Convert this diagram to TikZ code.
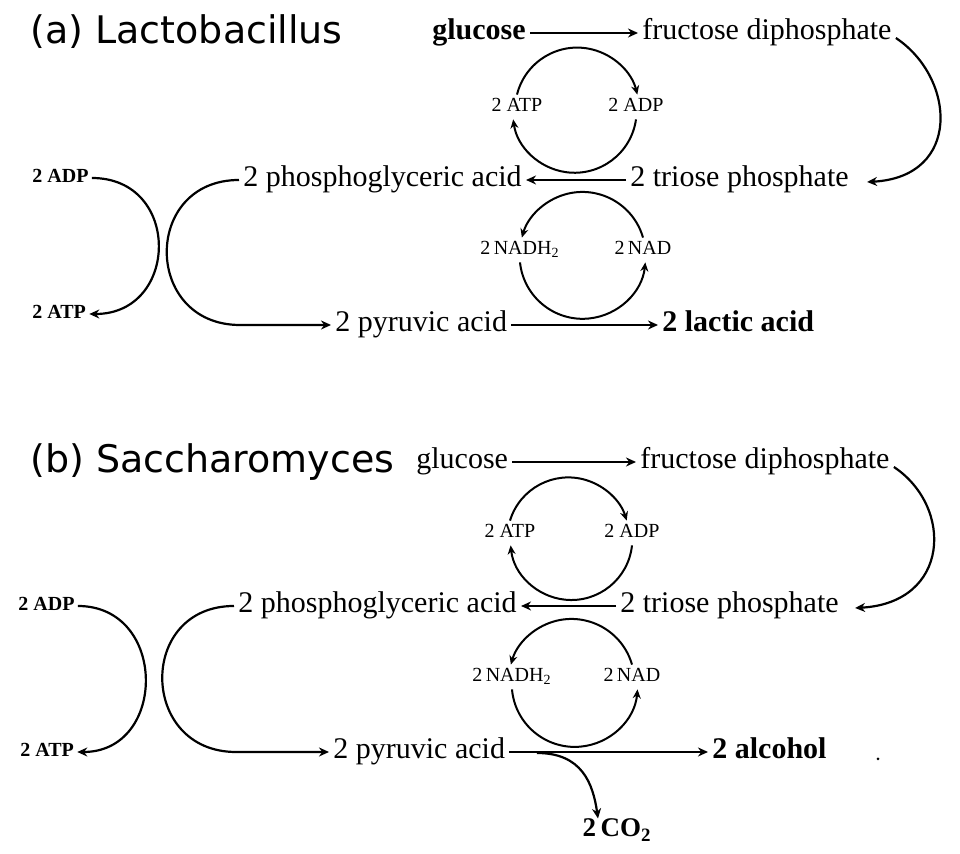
\documentclass[tikz,border=0pt]{standalone}
\usepackage{fontspec}
\setmainfont{Liberation Serif}
\newfontfamily\titlefont{DejaVu Sans}
\usetikzlibrary{arrows.meta,calc}
\begin{document}
\begin{tikzpicture}[x=0.5pt,y=-0.5pt,
  every node/.style={inner sep=2pt},
  txt/.style={font=\fontsize{15}{18}\selectfont, text height=10.5pt, text depth=3.5pt},
  btxt/.style={font=\fontsize{15}{18}\selectfont\bfseries, text height=10.5pt, text depth=3.5pt},
  sml/.style={font=\fontsize{10}{12}\selectfont, text height=7pt, text depth=2pt, inner sep=1.5pt},
  bsml/.style={font=\fontsize{10}{12}\selectfont\bfseries, text height=7pt, text depth=2pt, inner sep=1.5pt},
  ttl/.style={font=\titlefont\fontsize{19}{23}\selectfont},
  arr/.style={line width=1.1pt, -{Stealth[length=5pt,width=4.5pt]}},
  cyc/.style={line width=1pt, -{Stealth[length=4.5pt,width=4pt]}}
]
\useasboundingbox (0,0) rectangle (960,854);
\fill[white] (0,0) rectangle (960,854);

% ---------------- (a) Lactobacillus ----------------
\node[ttl, anchor=west] (ta) at (26,32) {(a) Lactobacillus};
\node[btxt, anchor=west] (gluA) at (428,33) {glucose};
\node[txt, anchor=west] (fdpA) at (638,33) {fructose diphosphate};
\node[txt, anchor=west] (tpA) at (626,180) {2 triose phosphate};
\node[txt, anchor=west] (pgaA) at (239,180) {2 phosphoglyceric acid};
\node[txt, anchor=west] (pyrA) at (331,325) {2 pyruvic acid};
\node[btxt, anchor=west] (lacA) at (658,325) {2 lactic acid};
\node[sml] (atpA) at (517,107) {2 ATP};
\node[sml] (adpA) at (636,107) {2 ADP};
\node[sml] (nadhA) at (520,250) {2\,NADH\textsubscript{2}};
\node[sml] (nadA) at (643,250) {2\,NAD};
\node[bsml, anchor=west] (ladpA) at (29,178) {2 ADP};
\node[bsml, anchor=west] (latpA) at (29,314) {2 ATP};
\coordinate (cA) at (240,325);

\draw[arr] (gluA.east) -- (fdpA.west);
\draw[arr] ($(fdpA.east)+(0,5)$) .. controls +(60,40) and +(95,-5) .. ($(tpA.east)+(14,2)$);
\draw[arr] (tpA.west) -- (pgaA.east);
\draw[arr] (pyrA.east) -- (lacA.west);
\draw[cyc] (atpA.north) arc[start angle=194, end angle=346, radius=62];
\draw[cyc] (adpA.south) arc[start angle=8, end angle=172, radius=62];
\draw[cyc] (nadA.north) arc[start angle=344, end angle=196, radius=63];
\draw[cyc] (nadhA.south) arc[start angle=174, end angle=6, radius=63];
\draw[arr] (ladpA.east) .. controls +(90,0) and +(90,0) .. (latpA.east);
\draw[arr] (pgaA.west) .. controls +(-97,0) and +(-97,0) .. (cA) -- (pyrA.west);

% ---------------- (b) Saccharomyces ----------------
\node[ttl, anchor=west] (tb) at (26,462) {(b) Saccharomyces};
\node[txt, anchor=west] (gluB) at (412,462) {glucose};
\node[txt, anchor=west] (fdpB) at (636,462) {fructose diphosphate};
\node[txt, anchor=west] (tpB) at (616,606) {2 triose phosphate};
\node[txt, anchor=west] (pgaB) at (234,606) {2 phosphoglyceric acid};
\node[txt, anchor=west] (pyrB) at (329,752) {2 pyruvic acid};
\node[btxt, anchor=west] (alcB) at (708,752) {2 alcohol};
\node[font=\fontsize{13.5}{16}\selectfont\bfseries] (co2B) at (617,830) {2\,CO\textsubscript{2}};
\node[sml] (atpB) at (510,533) {2 ATP};
\node[sml] (adpB) at (632,533) {2 ADP};
\node[sml] (nadhB) at (512,677) {2\,NADH\textsubscript{2}};
\node[sml] (nadB) at (632,677) {2\,NAD};
\node[bsml, anchor=west] (ladpB) at (15,606) {2 ADP};
\node[bsml, anchor=west] (latpB) at (17,752) {2 ATP};
\coordinate (cB) at (236,752);
\coordinate (brB) at (537,753);

\draw[arr] (gluB.east) -- (fdpB.west);
\draw[arr] ($(fdpB.east)+(0,5)$) .. controls +(60,40) and +(95,-5) .. ($(tpB.east)+(12,2)$);
\draw[arr] (tpB.west) -- (pgaB.east);
\draw[arr] (pyrB.east) -- (alcB.west);
\draw[arr] (brB) .. controls +(45,0) and +(-5,-35) .. ($(co2B.north)+(-19,4)$);
\draw[cyc] (atpB.north) arc[start angle=197, end angle=343, radius=61];
\draw[cyc] (adpB.south) arc[start angle=6, end angle=174, radius=61];
\draw[cyc] (nadB.north) arc[start angle=344, end angle=196, radius=63];
\draw[cyc] (nadhB.south) arc[start angle=175, end angle=5, radius=63];
\draw[arr] (ladpB.east) .. controls +(90,0) and +(90,0) .. (latpB.east);
\draw[arr] (pgaB.west) .. controls +(-97,0) and +(-97,0) .. (cB) -- (pyrB.west);

\fill (878,759) circle[radius=1.5];
\end{tikzpicture}
\end{document}
